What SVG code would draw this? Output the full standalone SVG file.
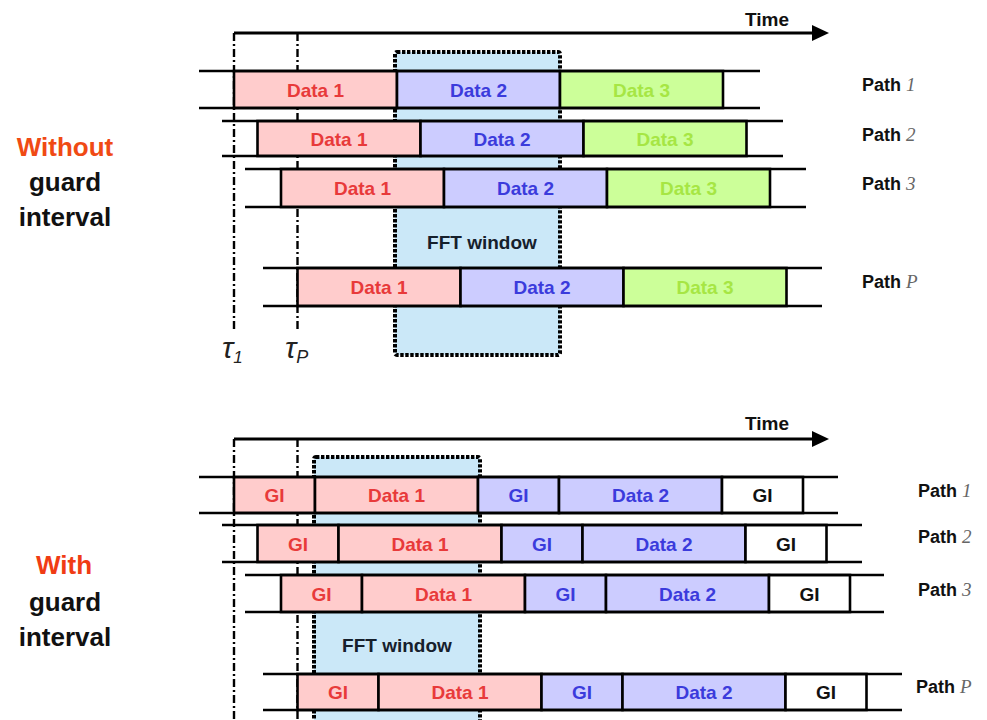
<svg xmlns="http://www.w3.org/2000/svg" width="987" height="720" viewBox="0 0 987 720">
<defs>
<style>
.row{stroke:#000;stroke-width:2.6;fill:none}
.blk{stroke:#000;stroke-width:2.6}
.d1{fill:#ffcccc}.d2{fill:#ccccff}.d3{fill:#ccff99}.gw{fill:#ffffff}
.t{font-family:"Liberation Sans",Arial,sans-serif;font-weight:bold;font-size:19px;text-anchor:middle}
.t1{fill:#e83a3a}.t2{fill:#3b3bdc}.t3{fill:#a6e644}.tk{fill:#111}
.win{fill:#cbe8f8;stroke:#000;stroke-width:4;stroke-dasharray:3.4 1.6}
.wt{font-family:"Liberation Sans",Arial,sans-serif;font-weight:bold;font-size:19px;fill:#16202c;text-anchor:middle}
.tau{stroke:#000;stroke-width:2.4;stroke-dasharray:8 3 2 3;fill:none}
.axis{stroke:#000;stroke-width:3;fill:none}
.pl{font-family:"Liberation Sans",Arial,sans-serif;font-weight:bold;font-size:18px;fill:#111}
.pn{font-family:"Liberation Serif","Times New Roman",serif;font-style:italic;font-weight:normal;font-size:19px;fill:#666}
.side{font-family:"Liberation Sans",Arial,sans-serif;font-weight:bold;font-size:26px;text-anchor:middle;fill:#111}
.tl{font-family:"Liberation Sans",Arial,sans-serif;font-style:italic;font-size:30px;fill:#222}
.time{font-family:"Liberation Sans",Arial,sans-serif;font-weight:bold;font-size:19px;fill:#111;text-anchor:middle}
</style>
<marker id="arr" markerWidth="18" markerHeight="16" refX="1" refY="8" orient="auto" markerUnits="userSpaceOnUse">
<path d="M1,0 L18,8 L1,16 Z" fill="#000"/>
</marker>
</defs>
<rect width="987" height="720" fill="#fff"/>

<!-- side labels -->
<g id="label-without">
<text class="side" x="65" y="156" style="fill:#f04a14">Without</text>
<text class="side" x="65" y="191">guard</text>
<text class="side" x="65" y="226">interval</text>
</g>
<g id="label-with">
<text class="side" x="64" y="574" style="fill:#f03c14">With</text>
<text class="side" x="65" y="611">guard</text>
<text class="side" x="65" y="646">interval</text>
</g>

<!-- FFT windows -->
<g id="fft-top">
<rect class="win" x="395" y="52" width="165" height="303" rx="2"/>
<text class="wt" x="482" y="249">FFT window</text>
</g>
<g id="fft-bottom">
<rect class="win" x="314" y="457" width="166" height="300" rx="2"/>
<text class="wt" x="397" y="652">FFT window</text>
</g>

<!-- axes and tau markers -->
<g id="connectors">
<path class="axis" d="M234,33 H812" marker-end="url(#arr)"/>
<path class="tau" d="M234,33 V330"/>
<path class="tau" d="M297.5,33 V330"/>
<path class="axis" d="M234,439 H812" marker-end="url(#arr)"/>
<path class="tau" d="M234,439 V720"/>
<path class="tau" d="M297.5,439 V720"/>
</g>
<text class="time" x="767" y="26">Time</text>
<text class="time" x="767" y="430">Time</text>
<g id="tau1"><text class="tl" x="222" y="358">τ<tspan font-size="17" dy="5">1</tspan></text></g>
<g id="tauP"><text class="tl" x="285" y="358">τ<tspan font-size="18" dy="5">P</tspan></text></g>

<!-- top rows -->
<g id="top-path1">
<rect class="blk d1" x="234" y="71" width="163" height="37"/>
<rect class="blk d2" x="397" y="71" width="163" height="37"/>
<rect class="blk d3" x="560" y="71" width="163" height="37"/>
<path class="row" d="M199,71 H760 M199,108 H760"/>
<text class="t t1" x="315.5" y="96.5">Data 1</text>
<text class="t t2" x="478.5" y="96.5">Data 2</text>
<text class="t t3" x="641.5" y="96.5">Data 3</text>
<text class="pl" x="862" y="90.5">Path <tspan class="pn">1</tspan></text>
</g>
<g id="top-path2">
<rect class="blk d1" x="257.5" y="121" width="163" height="35"/>
<rect class="blk d2" x="420.5" y="121" width="163" height="35"/>
<rect class="blk d3" x="583.5" y="121" width="163" height="35"/>
<path class="row" d="M222,121 H783 M222,156 H783"/>
<text class="t t1" x="339" y="145.5">Data 1</text>
<text class="t t2" x="502" y="145.5">Data 2</text>
<text class="t t3" x="665" y="145.5">Data 3</text>
<text class="pl" x="862" y="140.5">Path <tspan class="pn">2</tspan></text>
</g>
<g id="top-path3">
<rect class="blk d1" x="281" y="169" width="163" height="38"/>
<rect class="blk d2" x="444" y="169" width="163" height="38"/>
<rect class="blk d3" x="607" y="169" width="163" height="38"/>
<path class="row" d="M245,169 H806 M245,207 H806"/>
<text class="t t1" x="362.5" y="195">Data 1</text>
<text class="t t2" x="525.5" y="195">Data 2</text>
<text class="t t3" x="688.5" y="195">Data 3</text>
<text class="pl" x="862" y="189.5">Path <tspan class="pn">3</tspan></text>
</g>
<g id="top-pathP">
<rect class="blk d1" x="297.5" y="268" width="163" height="38"/>
<rect class="blk d2" x="460.5" y="268" width="163" height="38"/>
<rect class="blk d3" x="623.5" y="268" width="163" height="38"/>
<path class="row" d="M263,268 H822 M263,306 H822"/>
<text class="t t1" x="379" y="294">Data 1</text>
<text class="t t2" x="542" y="294">Data 2</text>
<text class="t t3" x="705" y="294">Data 3</text>
<text class="pl" x="862" y="288">Path <tspan class="pn">P</tspan></text>
</g>

<!-- bottom rows -->
<g id="bot-path1">
<rect class="blk d1" x="234" y="477" width="81" height="36"/>
<rect class="blk d1" x="315" y="477" width="163" height="36"/>
<rect class="blk d2" x="478" y="477" width="81" height="36"/>
<rect class="blk d2" x="559" y="477" width="163" height="36"/>
<rect class="blk gw" x="722" y="477" width="81" height="36"/>
<path class="row" d="M199,477 H838 M199,513 H838"/>
<text class="t t1" x="274.5" y="502">GI</text>
<text class="t t1" x="396.5" y="502">Data 1</text>
<text class="t t2" x="518.5" y="502">GI</text>
<text class="t t2" x="640.5" y="502">Data 2</text>
<text class="t tk" x="762.5" y="502">GI</text>
<text class="pl" x="918" y="497">Path <tspan class="pn">1</tspan></text>
</g>
<g id="bot-path2">
<rect class="blk d1" x="257.5" y="525" width="81" height="37"/>
<rect class="blk d1" x="338.5" y="525" width="163" height="37"/>
<rect class="blk d2" x="501.5" y="525" width="81" height="37"/>
<rect class="blk d2" x="582.5" y="525" width="163" height="37"/>
<rect class="blk gw" x="745.5" y="525" width="81" height="37"/>
<path class="row" d="M222,525 H862 M222,562 H862"/>
<text class="t t1" x="298" y="550.5">GI</text>
<text class="t t1" x="420" y="550.5">Data 1</text>
<text class="t t2" x="542" y="550.5">GI</text>
<text class="t t2" x="664" y="550.5">Data 2</text>
<text class="t tk" x="786" y="550.5">GI</text>
<text class="pl" x="918" y="543">Path <tspan class="pn">2</tspan></text>
</g>
<g id="bot-path3">
<rect class="blk d1" x="281" y="575" width="81" height="37"/>
<rect class="blk d1" x="362" y="575" width="163" height="37"/>
<rect class="blk d2" x="525" y="575" width="81" height="37"/>
<rect class="blk d2" x="606" y="575" width="163" height="37"/>
<rect class="blk gw" x="769" y="575" width="81" height="37"/>
<path class="row" d="M245,575 H884 M245,612 H884"/>
<text class="t t1" x="321.5" y="600.5">GI</text>
<text class="t t1" x="443.5" y="600.5">Data 1</text>
<text class="t t2" x="565.5" y="600.5">GI</text>
<text class="t t2" x="687.5" y="600.5">Data 2</text>
<text class="t tk" x="809.5" y="600.5">GI</text>
<text class="pl" x="918" y="596">Path <tspan class="pn">3</tspan></text>
</g>
<g id="bot-pathP">
<rect class="blk d1" x="297.5" y="674" width="81" height="36"/>
<rect class="blk d1" x="378.5" y="674" width="163" height="36"/>
<rect class="blk d2" x="541.5" y="674" width="81" height="36"/>
<rect class="blk d2" x="622.5" y="674" width="163" height="36"/>
<rect class="blk gw" x="785.5" y="674" width="81" height="36"/>
<path class="row" d="M263,674 H902 M263,710 H902"/>
<text class="t t1" x="338" y="699">GI</text>
<text class="t t1" x="460" y="699">Data 1</text>
<text class="t t2" x="582" y="699">GI</text>
<text class="t t2" x="704" y="699">Data 2</text>
<text class="t tk" x="826" y="699">GI</text>
<text class="pl" x="916" y="693">Path <tspan class="pn">P</tspan></text>
</g>
</svg>
